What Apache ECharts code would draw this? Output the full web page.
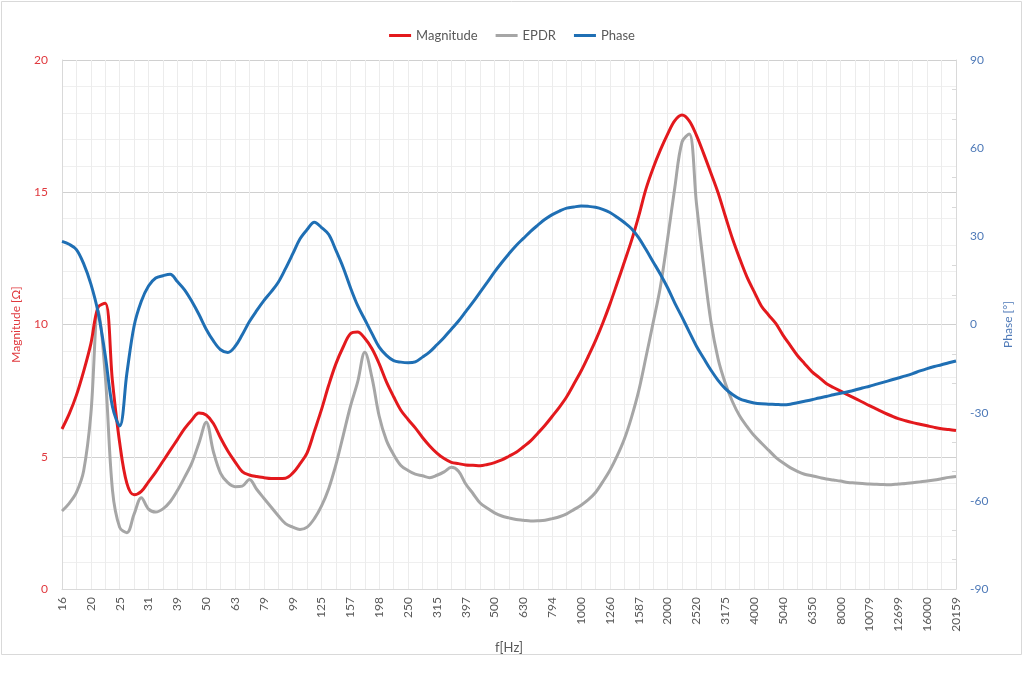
<!DOCTYPE html>
<html>
<head>
<meta charset="utf-8">
<script src="https://cdn.jsdelivr.net/npm/echarts@6/dist/echarts.min.js"></script>
<style>
html,body{margin:0;padding:0;background:#fff;}
#chart{width:1024px;height:684px;}
</style>
</head>
<body>
<div id="chart"></div>
<script>
// Labelled frequencies (1/3 octave) shown on the x axis
const tickLabels = ['16','20','25','31','39','50','63','79','99','125','157','198','250','315','397','500','630','794','1000','1260','1587','2000','2520','3175','4000','5040','6350','8000','10079','12699','16000','20159'];

// Magnitude [Ohm], 1/12-octave points
const magnitude = [
 6.05, 6.62, 7.33, 8.23, 9.27, 10.65, 10.8, 7.85, 5.53, 3.99,
 3.56, 3.69, 4.05, 4.42, 4.83, 5.24, 5.65, 6.06, 6.39, 6.65,
 6.58, 6.26, 5.71, 5.22, 4.81, 4.44, 4.31, 4.25, 4.21, 4.18,
 4.18, 4.19, 4.38, 4.73, 5.15, 5.96, 6.79, 7.71, 8.52, 9.15,
 9.65, 9.72, 9.48, 9.08, 8.51, 7.83, 7.27, 6.76, 6.41, 6.09,
 5.73, 5.41, 5.14, 4.93, 4.79, 4.74, 4.69, 4.68, 4.66, 4.71,
 4.78, 4.88, 5.02, 5.17, 5.38, 5.60, 5.89, 6.19, 6.53, 6.88,
 7.27, 7.75, 8.24, 8.80, 9.39, 10.05, 10.77, 11.56, 12.36, 13.18,
 14.11, 15.13, 15.92, 16.60, 17.2, 17.71, 17.92, 17.7, 17.15, 16.46,
 15.73, 14.98, 14.10, 13.24, 12.49, 11.8, 11.24, 10.70, 10.36, 10.04,
 9.6, 9.21, 8.83, 8.52, 8.22, 8.0, 7.77, 7.62, 7.48, 7.34,
 7.21, 7.07, 6.93, 6.80, 6.67, 6.55, 6.44, 6.36, 6.29, 6.23,
 6.17, 6.11, 6.06, 6.03, 5.99
];

// EPDR [Ohm]
const epdr = [
 2.95, 3.24, 3.65, 4.46, 6.6, 10.55, 8.08, 3.74, 2.33, 2.13,
 2.83, 3.45, 3.02, 2.91, 3.03, 3.30, 3.72, 4.22, 4.76, 5.52,
 6.3, 5.19, 4.37, 4.02, 3.87, 3.89, 4.14, 3.77, 3.43, 3.10,
 2.77, 2.47, 2.34, 2.25, 2.34, 2.66, 3.14, 3.80, 4.71, 5.80,
 6.90, 7.82, 8.95, 7.98, 6.53, 5.62, 5.08, 4.67, 4.48, 4.34,
 4.28, 4.21, 4.30, 4.43, 4.60, 4.45, 3.97, 3.61, 3.25, 3.05,
 2.88, 2.76, 2.69, 2.63, 2.60, 2.57, 2.58, 2.60, 2.66, 2.73,
 2.84, 3.00, 3.17, 3.38, 3.65, 4.05, 4.49, 5.03, 5.67, 6.50,
 7.50, 8.77, 10.08, 11.43, 13.24, 15.18, 16.9, 17.2, 14.58, 12.21,
 10.12, 8.70, 7.78, 7.08, 6.54, 6.15, 5.80, 5.52, 5.25, 4.98,
 4.77, 4.59, 4.45, 4.34, 4.28, 4.22, 4.16, 4.12, 4.08, 4.03,
 4.01, 3.99, 3.97, 3.96, 3.95, 3.94, 3.97, 3.99, 4.02, 4.05,
 4.08, 4.12, 4.17, 4.22, 4.25
];

// Phase [deg]
const phase = [
 28.3, 27.3, 25.5, 20.7, 13.8, 4.2, -10.5, -28, -34.5, -16.6,
 -0.5, 7.9, 13.1, 15.8, 16.6, 17.1, 14.6, 11.8, 7.9, 3.4,
 -1.6, -5.6, -8.6, -9.5, -7.5, -3.5, 1.0, 4.7, 8.1, 11.1,
 14.4, 19.0, 24.0, 29.1, 32.3, 34.8, 33.0, 30.6, 25.2, 19.4,
 12.6, 6.5, 1.7, -3.1, -7.7, -10.5, -12.3, -12.8, -13.0, -12.7,
 -11.1, -9.3, -6.9, -4.4, -1.6, 1.2, 4.4, 7.6, 11.0, 14.4,
 17.9, 21.1, 24.1, 26.9, 29.3, 31.7, 33.8, 35.8, 37.4, 38.6,
 39.6, 40.0, 40.3, 40.2, 39.9, 39.2, 38.1, 36.5, 34.7, 32.6,
 29.5, 25.5, 21.3, 17.1, 12.5, 7.3, 2.5, -2.5, -7.4, -11.5,
 -15.5, -19.0, -21.8, -23.8, -25.3, -26.1, -26.7, -27.0, -27.1, -27.2,
 -27.3, -27.1, -26.6, -26.1, -25.6, -25.0, -24.5, -23.9, -23.4, -22.9,
 -22.3, -21.6, -21.0, -20.3, -19.6, -18.9, -18.2, -17.5, -16.7, -15.8,
 -15.0, -14.3, -13.7, -13.0, -12.4
];

// Categories: labelled frequencies with three 1/12-octave steps in between
const categories = [];
tickLabels.forEach(function (t, i) {
  categories.push(t);
  if (i < tickLabels.length - 1) {
    for (let j = 1; j <= 3; j++) categories.push(String(Math.round(Number(t) * Math.pow(2, j / 12))));
  }
});

const FONT = 'Lato';
const chart = echarts.init(document.getElementById('chart'), null, {renderer: 'canvas'});
chart.setOption({
  animation: false,
  backgroundColor: '#ffffff',
  textStyle: {fontFamily: FONT},
  graphic: [{
    type: 'rect', shape: {x: 1.5, y: 1.5, width: 1020, height: 653},
    style: {fill: 'none', stroke: '#d9d9d9', lineWidth: 1}, silent: true, z: -1
  }],
  legend: {
    top: 24, left: 'center',
    icon: 'rect', itemWidth: 22, itemHeight: 3, itemGap: 18,
    textStyle: {color: '#595959', fontSize: 13, fontFamily: FONT},
    data: ['Magnitude', 'EPDR', 'Phase']
  },
  grid: {left: 62, right: 68, top: 60, bottom: 95, containLabel: false},
  xAxis: {
    type: 'category', data: categories, boundaryGap: false,
    name: 'f[Hz]', nameLocation: 'middle', nameGap: 52,
    nameTextStyle: {color: '#595959', fontSize: 13, fontFamily: FONT},
    axisLine: {lineStyle: {color: '#d9d9d9'}},
    axisTick: {show: false},
    axisLabel: {interval: 3, rotate: 90, color: '#595959', fontSize: 12, margin: 8, fontFamily: FONT},
    splitLine: {show: true, interval: 1, lineStyle: {color: '#ececec', width: 1}}
  },
  yAxis: [{
    type: 'value', min: 0, max: 20, interval: 5,
    name: 'Magnitude [Ω]', nameLocation: 'middle', nameGap: 40, nameRotate: 90,
    nameTextStyle: {color: '#e0393e', fontSize: 12, fontFamily: FONT},
    axisLine: {show: true, lineStyle: {color: '#d9d9d9'}},
    axisTick: {show: false},
    axisLabel: {color: '#e0393e', fontSize: 12, margin: 14, fontFamily: FONT},
    splitLine: {show: true, lineStyle: {color: '#d0d0d0', width: 1}},
    minorSplitLine: {show: true, lineStyle: {color: '#efefef', width: 1}},
    minorTick: {show: false, splitNumber: 5}
  }, {
    type: 'value', min: -90, max: 90, interval: 30, position: 'right',
    name: 'Phase [°]', nameLocation: 'middle', nameGap: 46, nameRotate: 90,
    nameTextStyle: {color: '#4f7ab8', fontSize: 12, fontFamily: FONT},
    axisLine: {show: true, lineStyle: {color: '#d9d9d9'}},
    axisTick: {show: false, inside: true},
    minorTick: {show: true, splitNumber: 3, length: 4, lineStyle: {color: '#d9d9d9'}},
    axisLabel: {color: '#4f7ab8', fontSize: 12, margin: 14, fontFamily: FONT},
    splitLine: {show: false}
  }],
  series: [{
    name: 'Magnitude', type: 'line', yAxisIndex: 0, data: magnitude,
    symbol: 'none', smooth: 0.35, z: 3,
    lineStyle: {color: '#e3191d', width: 3}, itemStyle: {color: '#e3191d'}
  }, {
    name: 'EPDR', type: 'line', yAxisIndex: 0, data: epdr,
    symbol: 'none', smooth: 0.35, z: 2,
    lineStyle: {color: '#a6a6a6', width: 3}, itemStyle: {color: '#a6a6a6'}
  }, {
    name: 'Phase', type: 'line', yAxisIndex: 1, data: phase,
    symbol: 'none', smooth: 0.35, z: 4,
    lineStyle: {color: '#1f6fb4', width: 3}, itemStyle: {color: '#1f6fb4'}
  }]
});
</script>
</body>
</html>
